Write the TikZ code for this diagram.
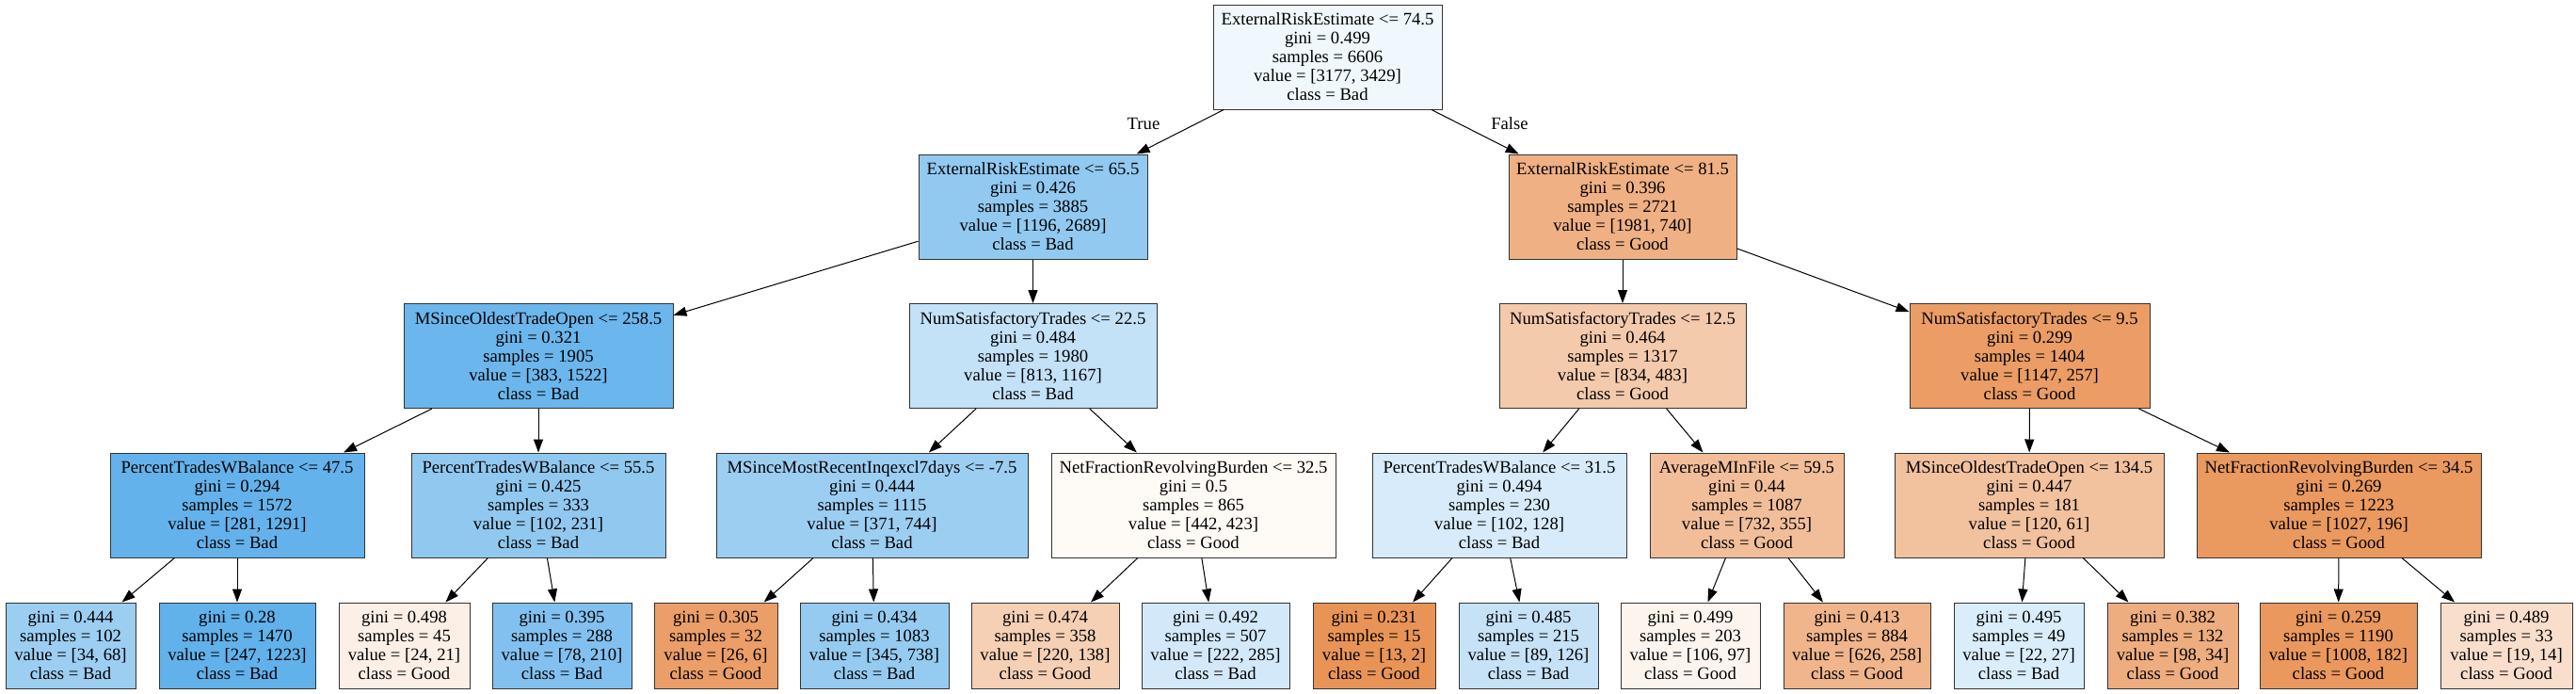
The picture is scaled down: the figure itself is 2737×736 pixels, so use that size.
\documentclass[tikz,border=0pt]{standalone}
\usepackage{fontspec}
\setmainfont{Liberation Serif}
\usetikzlibrary{arrows.meta}
\definecolor{good}{RGB}{229,129,57}
\definecolor{bad}{RGB}{57,157,229}
\begin{document}
\begin{tikzpicture}[x=0.75pt,y=-0.75pt,
  nd/.style={draw=black!80, line width=0.75pt, rectangle, align=center, inner sep=0pt,
    font=\fontsize{14}{15}\selectfont},
  inner/.style={nd, minimum height=111*0.75pt},
  leaf/.style={nd, minimum height=91*0.75pt},
  bw/.style={minimum width=#1*0.75pt},
  edge/.style={draw=black, line width=0.75pt, -{Triangle[length=10.5pt,width=7.5pt]}},
  lbl/.style={font=\fontsize{14}{15}\selectfont, inner sep=0pt}]
\useasboundingbox (0,0) rectangle (2737,736);
% level 0
\node[inner, bw=243, fill=bad!7.35!white] (n0) at (1410.5,60.5)
  {ExternalRiskEstimate <= 74.5\\gini = 0.499\\samples = 6606\\value = [3177, 3429]\\class = Bad};
% level 1
\node[inner, bw=243, fill=bad!55.5!white] (n1) at (1097.5,219.5)
  {ExternalRiskEstimate <= 65.5\\gini = 0.426\\samples = 3885\\value = [1196, 2689]\\class = Bad};
\node[inner, bw=242, fill=good!62.6!white] (n8) at (1724,219.5)
  {ExternalRiskEstimate <= 81.5\\gini = 0.396\\samples = 2721\\value = [1981, 740]\\class = Good};
% level 2
\node[inner, bw=286, fill=bad!74.8!white] (n2) at (572,378)
  {MSinceOldestTradeOpen <= 258.5\\gini = 0.321\\samples = 1905\\value = [383, 1522]\\class = Bad};
\node[inner, bw=263, fill=bad!30.3!white] (n5) at (1097.5,378)
  {NumSatisfactoryTrades <= 22.5\\gini = 0.484\\samples = 1980\\value = [813, 1167]\\class = Bad};
\node[inner, bw=262, fill=good!42.1!white] (n9) at (1724,378)
  {NumSatisfactoryTrades <= 12.5\\gini = 0.464\\samples = 1317\\value = [834, 483]\\class = Good};
\node[inner, bw=255, fill=good!77.6!white] (n12) at (2156.5,378)
  {NumSatisfactoryTrades <= 9.5\\gini = 0.299\\samples = 1404\\value = [1147, 257]\\class = Good};
% level 3
\node[inner, bw=270, fill=bad!78.2!white] (n3) at (252,536.5)
  {PercentTradesWBalance <= 47.5\\gini = 0.294\\samples = 1572\\value = [281, 1291]\\class = Bad};
\node[inner, bw=270, fill=bad!55.8!white] (n4) at (572,536.5)
  {PercentTradesWBalance <= 55.5\\gini = 0.425\\samples = 333\\value = [102, 231]\\class = Bad};
\node[inner, bw=331, fill=bad!50.1!white] (n6) at (926.5,536.5)
  {MSinceMostRecentInqexcl7days <= -7.5\\gini = 0.444\\samples = 1115\\value = [371, 744]\\class = Bad};
\node[inner, bw=302, fill=good!4.3!white] (n7) at (1268,536.5)
  {NetFractionRevolvingBurden <= 32.5\\gini = 0.5\\samples = 865\\value = [442, 423]\\class = Good};
\node[inner, bw=270, fill=bad!20.3!white] (n10) at (1593,536.5)
  {PercentTradesWBalance <= 31.5\\gini = 0.494\\samples = 230\\value = [102, 128]\\class = Bad};
\node[inner, bw=206, fill=good!51.5!white] (n11) at (1856,536.5)
  {AverageMInFile <= 59.5\\gini = 0.44\\samples = 1087\\value = [732, 355]\\class = Good};
\node[inner, bw=286, fill=good!49.2!white] (n13) at (2156,536.5)
  {MSinceOldestTradeOpen <= 134.5\\gini = 0.447\\samples = 181\\value = [120, 61]\\class = Good};
\node[inner, bw=302, fill=good!80.9!white] (n14) at (2485,536.5)
  {NetFractionRevolvingBurden <= 34.5\\gini = 0.269\\samples = 1223\\value = [1027, 196]\\class = Good};
% leaves
\node[leaf, bw=138, fill=bad!50!white] (l1) at (75,685.5)
  {gini = 0.444\\samples = 102\\value = [34, 68]\\class = Bad};
\node[leaf, bw=166, fill=bad!79.8!white] (l2) at (252,685.5)
  {gini = 0.28\\samples = 1470\\value = [247, 1223]\\class = Bad};
\node[leaf, bw=139, fill=good!12.5!white] (l3) at (429.5,685.5)
  {gini = 0.498\\samples = 45\\value = [24, 21]\\class = Good};
\node[leaf, bw=148, fill=bad!62.9!white] (l4) at (597,685.5)
  {gini = 0.395\\samples = 288\\value = [78, 210]\\class = Bad};
\node[leaf, bw=131, fill=good!76.9!white] (l5) at (760.5,685.5)
  {gini = 0.305\\samples = 32\\value = [26, 6]\\class = Good};
\node[leaf, bw=158, fill=bad!53.3!white] (l6) at (929,685.5)
  {gini = 0.434\\samples = 1083\\value = [345, 738]\\class = Bad};
\node[leaf, bw=157, fill=good!37.3!white] (l7) at (1110.5,685.5)
  {gini = 0.474\\samples = 358\\value = [220, 138]\\class = Good};
\node[leaf, bw=157, fill=bad!22.1!white] (l8) at (1291.5,685.5)
  {gini = 0.492\\samples = 507\\value = [222, 285]\\class = Bad};
\node[leaf, bw=130, fill=good!84.6!white] (l9) at (1460,685.5)
  {gini = 0.231\\samples = 15\\value = [13, 2]\\class = Good};
\node[leaf, bw=148, fill=bad!29.4!white] (l10) at (1624,685.5)
  {gini = 0.485\\samples = 215\\value = [89, 126]\\class = Bad};
\node[leaf, bw=148, fill=good!8.5!white] (l11) at (1796,685.5)
  {gini = 0.499\\samples = 203\\value = [106, 97]\\class = Good};
\node[leaf, bw=156, fill=good!58.8!white] (l12) at (1973,685.5)
  {gini = 0.413\\samples = 884\\value = [626, 258]\\class = Good};
\node[leaf, bw=138, fill=bad!18.5!white] (l13) at (2145,685.5)
  {gini = 0.495\\samples = 49\\value = [22, 27]\\class = Bad};
\node[leaf, bw=139, fill=good!65.3!white] (l14) at (2308.5,685.5)
  {gini = 0.382\\samples = 132\\value = [98, 34]\\class = Good};
\node[leaf, bw=167, fill=good!81.9!white] (l15) at (2484.5,685.5)
  {gini = 0.259\\samples = 1190\\value = [1008, 182]\\class = Good};
\node[leaf, bw=140, fill=good!26.3!white] (l16) at (2663,685.5)
  {gini = 0.489\\samples = 33\\value = [19, 14]\\class = Good};
% edge labels
\node[lbl] (tlabel) at (1215,131) {True};
\node[lbl] (flabel) at (1604,131) {False};
% edges
\draw[edge] (n0) -- (n1);
\draw[edge] (n0) -- (n8);
\draw[edge] (n1) -- (n2);
\draw[edge] (n1) -- (n5);
\draw[edge] (n8) -- (n9);
\draw[edge] (n8) -- (n12);
\draw[edge] (n2) -- (n3);
\draw[edge] (n2) -- (n4);
\draw[edge] (n5) -- (n6);
\draw[edge] (n5) -- (n7);
\draw[edge] (n9) -- (n10);
\draw[edge] (n9) -- (n11);
\draw[edge] (n12) -- (n13);
\draw[edge] (n12) -- (n14);
\draw[edge] (n3) -- (l1);
\draw[edge] (n3) -- (l2);
\draw[edge] (n4) -- (l3);
\draw[edge] (n4) -- (l4);
\draw[edge] (n6) -- (l5);
\draw[edge] (n6) -- (l6);
\draw[edge] (n7) -- (l7);
\draw[edge] (n7) -- (l8);
\draw[edge] (n10) -- (l9);
\draw[edge] (n10) -- (l10);
\draw[edge] (n11) -- (l11);
\draw[edge] (n11) -- (l12);
\draw[edge] (n13) -- (l13);
\draw[edge] (n13) -- (l14);
\draw[edge] (n14) -- (l15);
\draw[edge] (n14) -- (l16);
\end{tikzpicture}
\end{document}
